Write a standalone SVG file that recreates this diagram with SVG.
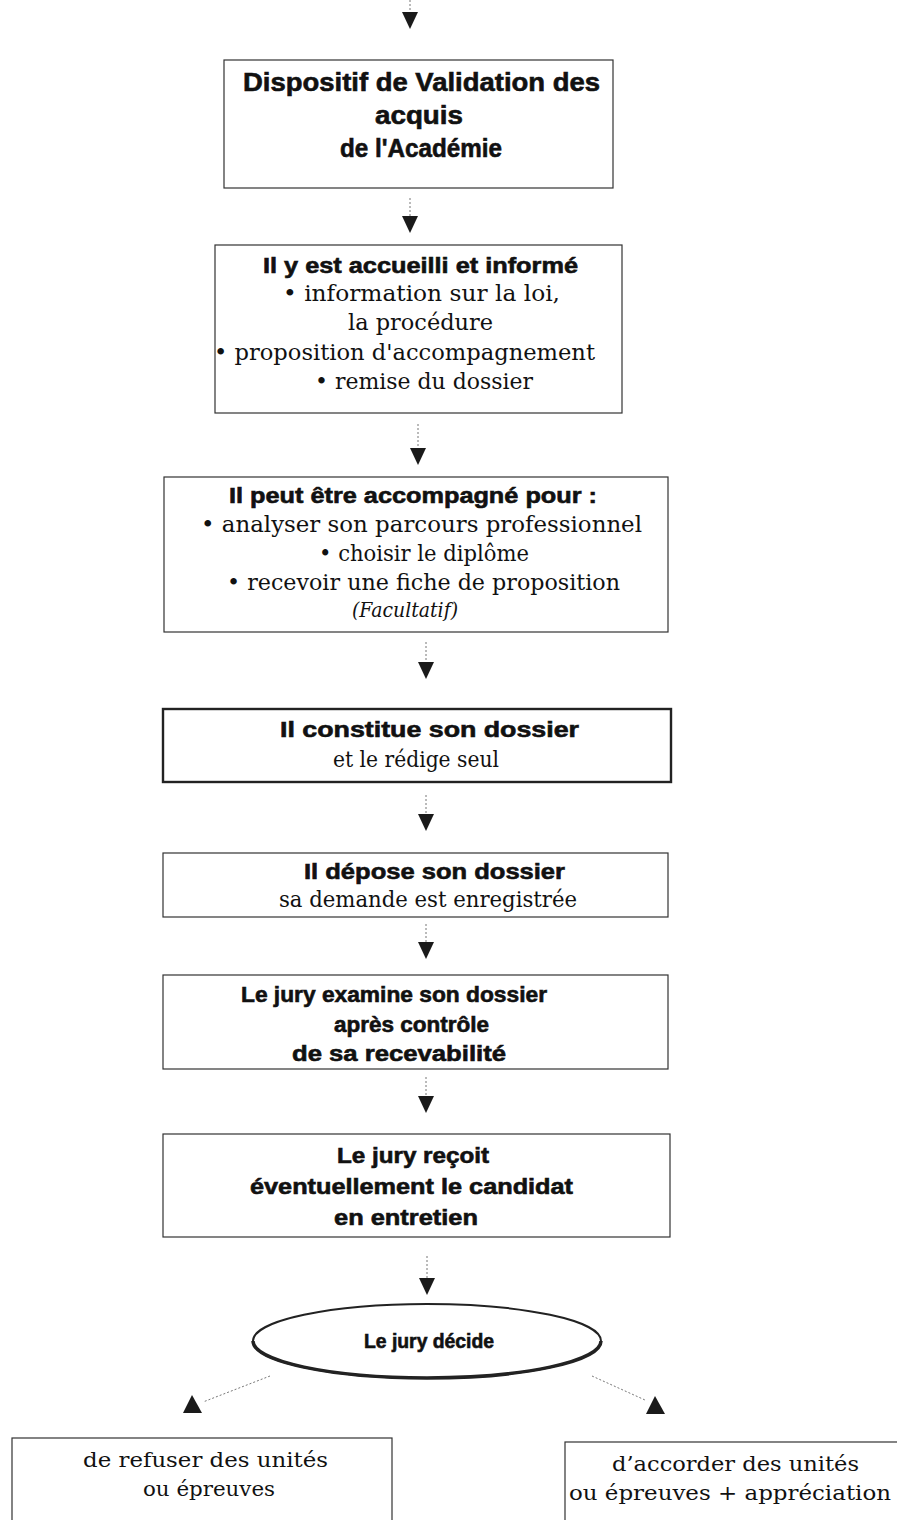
<svg xmlns="http://www.w3.org/2000/svg" width="897" height="1520" viewBox="0 0 897 1520">
<defs>
<marker id="ah" markerUnits="userSpaceOnUse" markerWidth="18" markerHeight="18" viewBox="0 -9 18 18" refX="0" refY="0" orient="auto">
<path d="M0,-8 L17,0 L0,8 z" fill="#1a1a1a"/>
</marker>
<style>
.box{fill:#fff;stroke:#333;stroke-width:1.2}
.thick{stroke-width:2.4;stroke:#222}
.b{font-family:"Liberation Sans",Arial,sans-serif;font-weight:bold;fill:#111;stroke:#111;stroke-width:0.6}
.s{font-family:"DejaVu Serif",serif;fill:#111}
.stem{stroke:#777;stroke-width:1;stroke-dasharray:2 2;fill:none}
.tri{fill:#1a1a1a}
</style>
</defs>
<g id="connectors">
<line class="stem" x1="410" y1="0" x2="410" y2="12" marker-end="url(#ah)"/>
<line class="stem" x1="410" y1="198" x2="410" y2="216" marker-end="url(#ah)"/>
<line class="stem" x1="418" y1="424" x2="418" y2="448" marker-end="url(#ah)"/>
<line class="stem" x1="426" y1="642" x2="426" y2="662" marker-end="url(#ah)"/>
<line class="stem" x1="426" y1="795" x2="426" y2="814" marker-end="url(#ah)"/>
<line class="stem" x1="426" y1="924" x2="426" y2="942" marker-end="url(#ah)"/>
<line class="stem" x1="426" y1="1077" x2="426" y2="1096" marker-end="url(#ah)"/>
<line class="stem" x1="427" y1="1256" x2="427" y2="1278" marker-end="url(#ah)"/>
<line class="stem" x1="270" y1="1376" x2="203" y2="1402"/>
<polygon class="tri" points="192,1395 183,1413 202,1413"/>
<line class="stem" x1="592" y1="1376" x2="645" y2="1400"/>
<polygon class="tri" points="655,1396 646,1414 665,1414"/>
</g>
<g id="n1">
<rect class="box" x="224" y="60" width="389" height="128"/>
<text class="b" x="243" y="91" font-size="26" textLength="357" lengthAdjust="spacingAndGlyphs">Dispositif de Validation des</text>
<text class="b" x="375" y="124" font-size="26" textLength="88" lengthAdjust="spacingAndGlyphs">acquis</text>
<text class="b" x="340" y="157" font-size="26" textLength="162" lengthAdjust="spacingAndGlyphs">de l'Académie</text>
</g>
<g id="n2">
<rect class="box" x="215" y="245" width="407" height="168"/>
<text class="b" x="263" y="273" font-size="22" textLength="315" lengthAdjust="spacingAndGlyphs">Il y est accueilli et informé</text>
<text class="s" x="283" y="301" font-size="22" textLength="277" lengthAdjust="spacingAndGlyphs">• information sur la loi,</text>
<text class="s" x="348" y="330" font-size="22" textLength="145" lengthAdjust="spacingAndGlyphs">la procédure</text>
<text class="s" x="214" y="360" font-size="22" textLength="381" lengthAdjust="spacingAndGlyphs">• proposition d'accompagnement</text>
<text class="s" x="315" y="389" font-size="22" textLength="218" lengthAdjust="spacingAndGlyphs">• remise du dossier</text>
</g>
<g id="n3">
<rect class="box" x="164" y="477" width="504" height="155"/>
<text class="b" x="229" y="503" font-size="22" textLength="368" lengthAdjust="spacingAndGlyphs">Il peut être accompagné pour :</text>
<text class="s" x="201" y="532" font-size="22" textLength="441" lengthAdjust="spacingAndGlyphs">• analyser son parcours professionnel</text>
<text class="s" x="319" y="561" font-size="22" textLength="210" lengthAdjust="spacingAndGlyphs">• choisir le diplôme</text>
<text class="s" x="227" y="590" font-size="22" textLength="393" lengthAdjust="spacingAndGlyphs">• recevoir une fiche de proposition</text>
<text class="s" x="352" y="617" font-size="21" font-style="italic" textLength="106" lengthAdjust="spacingAndGlyphs">(Facultatif)</text>
</g>
<g id="n4">
<rect class="box thick" x="163" y="709" width="508" height="73"/>
<text class="b" x="280" y="737" font-size="22" textLength="299" lengthAdjust="spacingAndGlyphs">Il constitue son dossier</text>
<text class="s" x="333" y="767" font-size="22" textLength="166" lengthAdjust="spacingAndGlyphs">et le rédige seul</text>
</g>
<g id="n5">
<rect class="box" x="163" y="853" width="505" height="64"/>
<text class="b" x="304" y="879" font-size="22" textLength="261" lengthAdjust="spacingAndGlyphs">Il dépose son dossier</text>
<text class="s" x="279" y="907" font-size="22" textLength="298" lengthAdjust="spacingAndGlyphs">sa demande est enregistrée</text>
</g>
<g id="n6">
<rect class="box" x="163" y="975" width="505" height="94"/>
<text class="b" x="241" y="1002" font-size="22" textLength="306" lengthAdjust="spacingAndGlyphs">Le jury examine son dossier</text>
<text class="b" x="334" y="1032" font-size="22" textLength="155" lengthAdjust="spacingAndGlyphs">après contrôle</text>
<text class="b" x="292" y="1061" font-size="22" textLength="214" lengthAdjust="spacingAndGlyphs">de sa recevabilité</text>
</g>
<g id="n7">
<rect class="box" x="163" y="1134" width="507" height="103"/>
<text class="b" x="337" y="1163" font-size="22" textLength="152" lengthAdjust="spacingAndGlyphs">Le jury reçoit</text>
<text class="b" x="250" y="1194" font-size="22" textLength="323" lengthAdjust="spacingAndGlyphs">éventuellement le candidat</text>
<text class="b" x="334" y="1225" font-size="22" textLength="144" lengthAdjust="spacingAndGlyphs">en entretien</text>
</g>
<g id="n8">
<ellipse cx="427" cy="1341" rx="174" ry="37" fill="#fff" stroke="#222" stroke-width="2"/>
<path d="M253,1341 A174,37 0 0 0 601,1341" fill="none" stroke="#222" stroke-width="3.5"/>
<text class="b" x="364" y="1348" font-size="20" textLength="130" lengthAdjust="spacingAndGlyphs">Le jury décide</text>
</g>
<g id="n9">
<rect class="box" x="12" y="1438" width="380" height="100"/>
<text class="s" x="83" y="1467" font-size="20" textLength="245" lengthAdjust="spacingAndGlyphs">de refuser des unités</text>
<text class="s" x="143" y="1496" font-size="20" textLength="132" lengthAdjust="spacingAndGlyphs">ou épreuves</text>
</g>
<g id="n10">
<rect class="box" x="565" y="1442" width="340" height="100"/>
<text class="s" x="612" y="1471" font-size="20" textLength="247" lengthAdjust="spacingAndGlyphs">d’accorder des unités</text>
<text class="s" x="569" y="1500" font-size="20" textLength="322" lengthAdjust="spacingAndGlyphs">ou épreuves + appréciation</text>
</g>
</svg>
